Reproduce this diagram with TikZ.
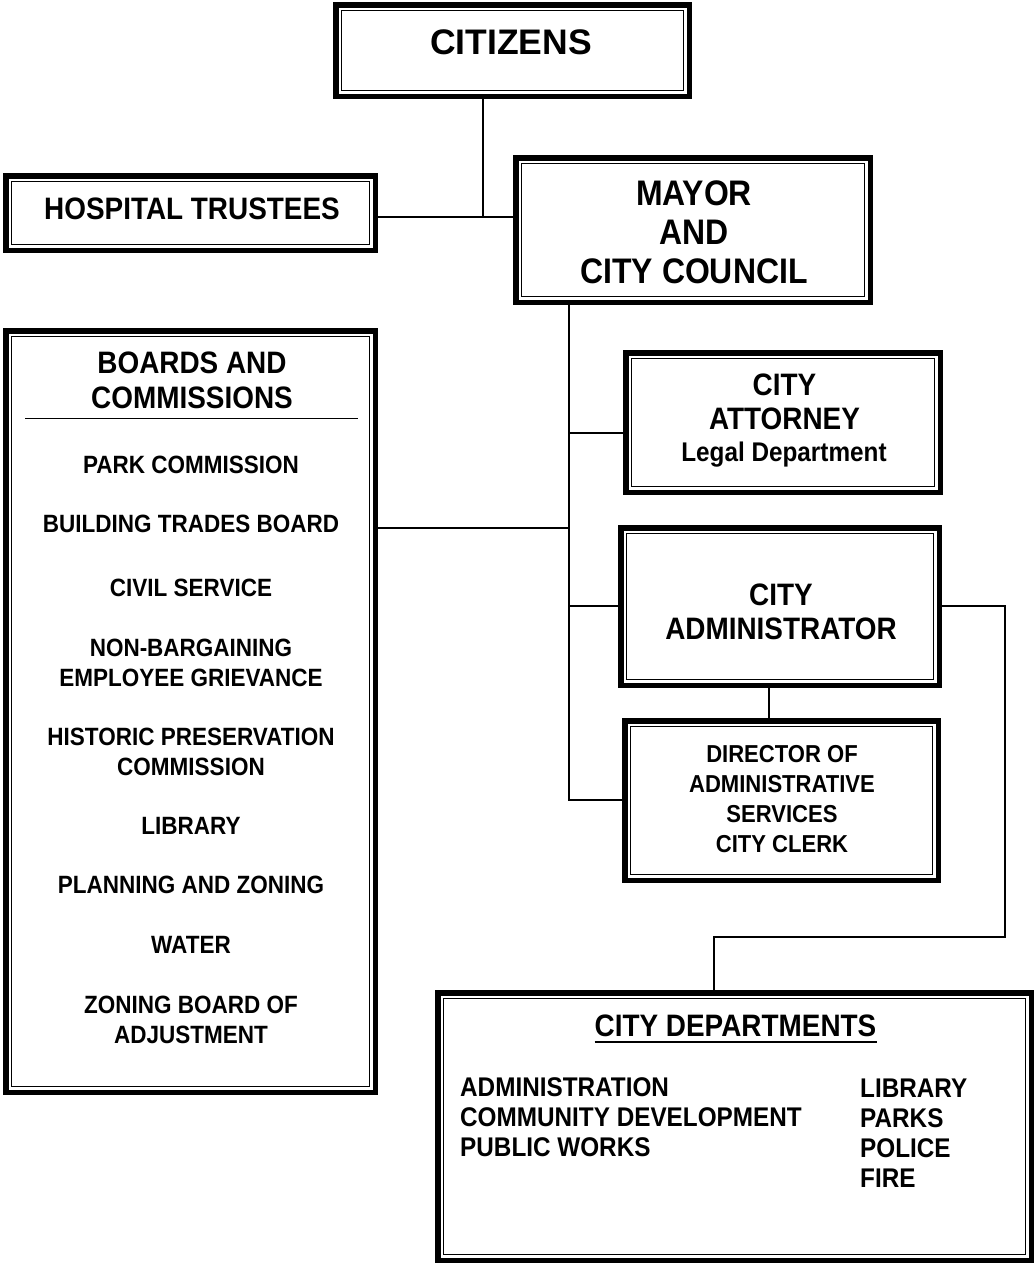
\documentclass[tikz,border=0pt]{standalone}
\usepackage{fontspec}
\setmainfont{Liberation Sans}[FakeStretch=0.9]
\newfontfamily\citfont{Liberation Sans}
\begin{document}
\begin{tikzpicture}[x=1pt,y=-1pt,
  dbox/.style={draw, line width=5.5pt, outer sep=0pt, inner sep=0pt, rectangle},
  inbox/.style={line width=1.4pt},
  conn/.style={line width=1.5pt},
  txt/.style={inner sep=0pt, anchor=base, font=\bfseries\fontsize{#1}{#1}\selectfont},
  ltxt/.style={inner sep=0pt, anchor=base west, font=\bfseries\fontsize{#1}{#1}\selectfont}]
\useasboundingbox (0,0) rectangle (1036,1264);
% boxes
\node[dbox, minimum width=353.5pt, minimum height=91.5pt] (cit) at (512.5,50.5) {};
\node[dbox, minimum width=369.5pt, minimum height=74.5pt] (hosp) at (190.5,213) {};
\node[dbox, minimum width=354.5pt, minimum height=144.5pt] (mayor) at (693,230) {};
\node[dbox, minimum width=369.5pt, minimum height=761.5pt] (boards) at (190.5,711.5) {};
\node[dbox, minimum width=314.5pt, minimum height=139.5pt] (atty) at (783,422.5) {};
\node[dbox, minimum width=318.5pt, minimum height=157.5pt] (admin) at (780,606.5) {};
\node[dbox, minimum width=313.5pt, minimum height=159.5pt] (dir) at (781.5,800.5) {};
\node[dbox, minimum width=593.5pt, minimum height=267.5pt] (dept) at (734.5,1126.5) {};
\foreach \n in {cit,hosp,mayor,boards,atty,admin,dir,dept}
  \draw[inbox] ([shift={(6pt,-6pt)}]\n.north west) rectangle ([shift={(-6pt,6pt)}]\n.south east);
% texts
\node[inner sep=0pt, anchor=base, font=\citfont\bfseries\fontsize{35.5}{36}\selectfont] (citt) at (511,54) {CITIZENS};
\node[txt=31] (hospt) at (192,219) {HOSPITAL TRUSTEES};
\node[txt=35.5] (may1) at (694,205) {MAYOR};
\node[txt=35.5] (may2) at (694,244) {AND};
\node[txt=35.5] (may3) at (694,283) {CITY COUNCIL};
\node[txt=31] (bt1) at (192,373) {BOARDS AND};
\node[txt=31] (bt2) at (192,408) {COMMISSIONS};
\node[txt=31] (at1) at (784.5,395) {CITY};
\node[txt=31] (at2) at (784.5,429) {ATTORNEY};
\node[txt=27] (at3) at (784,461) {Legal Department};
\node[txt=31] (ad1) at (781,605) {CITY};
\node[txt=31] (ad2) at (781,639) {ADMINISTRATOR};
\node[txt=31] (deptt) at (735.5,1036) {CITY DEPARTMENTS};
\draw[line width=1pt] (25,418) -- (358,418);
\draw[line width=2pt] ([yshift=-6pt]deptt.base west) -- ([yshift=-6pt]deptt.base east);
\foreach \t/\y [count=\i] in {PARK COMMISSION/473, BUILDING TRADES BOARD/532, CIVIL SERVICE/596,
  NON-BARGAINING/656, EMPLOYEE GRIEVANCE/686, HISTORIC PRESERVATION/745, COMMISSION/775,
  LIBRARY/834, PLANNING AND ZONING/893, WATER/953, ZONING BOARD OF/1013, ADJUSTMENT/1043}
  \node[txt=25] (bi\i) at (191,\y) {\t};
\foreach \t/\y [count=\i] in {DIRECTOR OF/762, ADMINISTRATIVE/792, SERVICES/822, CITY CLERK/852}
  \node[txt=24.5] (di\i) at (782,\y) {\t};
\foreach \t/\y [count=\i] in {ADMINISTRATION/1096, COMMUNITY DEVELOPMENT/1126, PUBLIC WORKS/1156}
  \node[ltxt=27] (dl\i) at (460,\y) {\t};
\foreach \t/\y [count=\i] in {LIBRARY/1097, PARKS/1127, POLICE/1157, FIRE/1187}
  \node[ltxt=27] (dr\i) at (860,\y) {\t};
% connectors
\coordinate (j1) at (483,217);
\draw[conn] (cit.south -| j1) -- (j1);
\draw[conn] (j1 -| hosp.east) -- (j1 -| mayor.west);
\coordinate (sp) at (569,800);
\draw[conn] (mayor.south -| sp) -- (sp) -- (sp -| dir.west);
\coordinate (ja) at (569,433);
\draw[conn] (ja) -- (ja -| atty.west);
\coordinate (jb) at (569,528);
\draw[conn] (jb -| boards.east) -- (jb);
\coordinate (jc) at (569,606);
\draw[conn] (jc) -- (jc -| admin.west);
\coordinate (xm) at (769,0);
\draw[conn] (admin.south -| xm) -- (dir.north -| xm);
\coordinate (r1) at (1005,606);
\coordinate (r2) at (1005,937);
\coordinate (r3) at (714,937);
\draw[conn] (r1 -| admin.east) -- (r1) -- (r2) -- (r3) -- (r3 |- dept.north);
\end{tikzpicture}
\end{document}
